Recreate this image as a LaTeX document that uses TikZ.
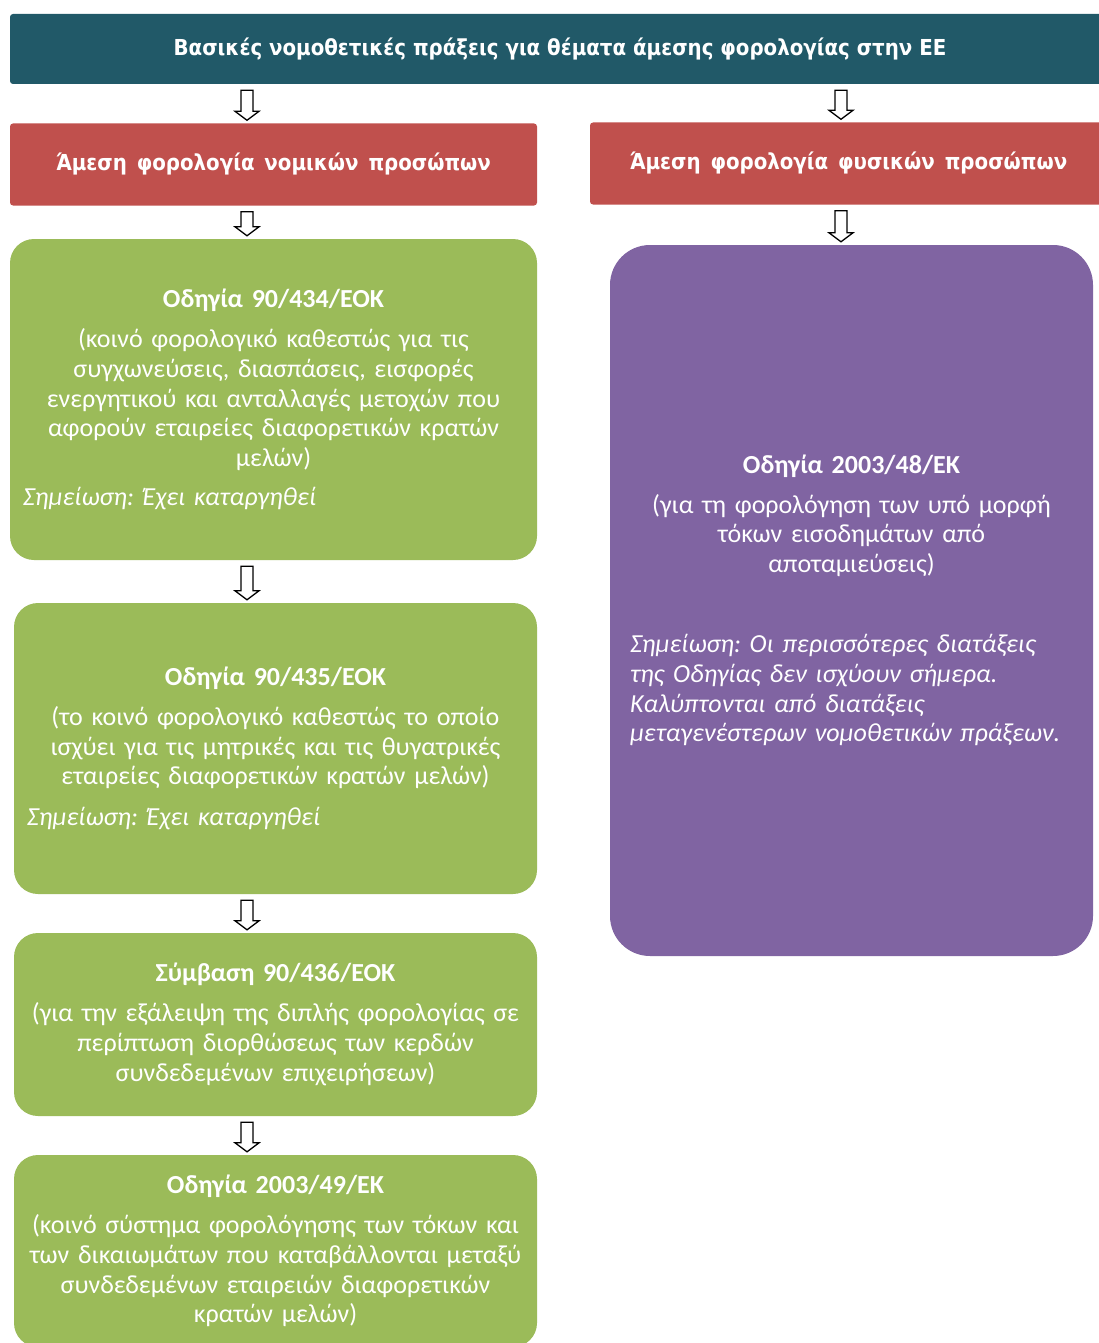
\documentclass[tikz,border=0pt]{standalone}
\usepackage{fontspec}
\setmainfont{Carlito}
\newfontfamily\headfont{DejaVu Sans Condensed}
\usepackage{tikz}
\usetikzlibrary{calc}
\definecolor{headteal}{HTML}{215968}
\definecolor{legalred}{HTML}{C0504D}
\definecolor{dirgreen}{HTML}{9BBB59}
\definecolor{dirpurple}{HTML}{8064A2}
\newcommand{\widesp}{\spaceskip=0.45em plus 0.1em\relax}
\frenchspacing
\tikzset{
    headbox/.style={rectangle, rounded corners=3pt, fill=headteal, text=white, minimum width=1100pt, minimum height=70pt, font=\headfont\bfseries\fontsize{22}{26}\selectfont},
    groupbox/.style={rectangle, rounded corners=3pt, fill=legalred, text=white, minimum height=82pt, font=\headfont\bfseries\fontsize{22}{26}\selectfont},
    greenbox/.style={rectangle, rounded corners=24pt, fill=dirgreen, text=white, inner xsep=13pt, inner ysep=0pt, font=\fontsize{26}{29.8}\selectfont},
    purplebox/.style={rectangle, rounded corners=40pt, fill=dirpurple, text=white, inner xsep=20pt, inner ysep=0pt, font=\fontsize{26}{29.8}\selectfont},
    hollowarrow/.style={draw=black, line width=1.3pt, fill=white, to path={
        let \p1=(\tikztostart), \p2=(\tikztotarget) in
        (\x1-6pt,\y1-6pt) -- (\x1+6pt,\y1-6pt) -- (\x1+6pt,\y2+12pt) -- (\x1+12pt,\y2+12pt)
        -- (\x1,\y2+3pt) -- (\x1-12pt,\y2+12pt) -- (\x1-6pt,\y2+12pt) -- cycle}}
}

\begin{document}
\begin{tikzpicture}[x=1pt, y=-1pt]
    \useasboundingbox (0,0) rectangle (1099,1343);
    \coordinate (colL) at (247,0);
    \coordinate (colR) at (841,0);

    \node (title) [headbox] at (560,49) {Βασικές νομοθετικές πράξεις για θέματα άμεσης φορολογίας στην ΕΕ};
    \node (nomika) [groupbox, minimum width=527pt] at (273.5,164.5) {\widesp Άμεση φορολογία νομικών προσώπων};
    \node (fysika) [groupbox, minimum width=517pt] at (848.5,163.5) {\widesp Άμεση φορολογία φυσικών προσώπων};

    % left column
    \node (dir434) [greenbox, text width=501pt, minimum height=321pt] at (273.5,399.5) {\centering\textbf{Οδηγία 90/434/ΕΟΚ}\\[10pt]
        (κοινό φορολογικό καθεστώς για τις\\ συγχωνεύσεις, διασπάσεις, εισφορές\\ ενεργητικού και ανταλλαγές μετοχών που\\ αφορούν εταιρείες διαφορετικών κρατών\\ μελών)\par
        \vspace{9pt}\raggedright\itshape Σημείωση: Έχει καταργηθεί\par};
    \node (dir435) [greenbox, text width=497pt, minimum height=291pt] at (275.5,748.5) {\centering\textbf{Οδηγία 90/435/ΕΟΚ}\\[10pt]
        (το κοινό φορολογικό καθεστώς το οποίο\\ ισχύει για τις μητρικές και τις θυγατρικές\\ εταιρείες διαφορετικών κρατών μελών)\par
        \vspace{11pt}\raggedright\itshape Σημείωση: Έχει καταργηθεί\par};
    \node (conv436) [greenbox, text width=497pt, minimum height=183pt] at (275.5,1024.5) {\centering\textbf{Σύμβαση 90/436/ΕΟΚ}\\[10pt]
        (για την εξάλειψη της διπλής φορολογίας σε\\ περίπτωση διορθώσεως των κερδών\\ συνδεδεμένων επιχειρήσεων)\par};
    \node (dir4903) [greenbox, text width=497pt, minimum height=192pt] at (275.5,1251) {\centering\textbf{Οδηγία 2003/49/ΕΚ}\\[10pt]
        (κοινό σύστημα φορολόγησης των τόκων και\\ των δικαιωμάτων που καταβάλλονται μεταξύ\\ συνδεδεμένων εταιρειών διαφορετικών\\ κρατών μελών)\par};

    % right column
    \node (dir4803) [purplebox, text width=443pt, minimum height=711pt] at (851.5,600.5) {\centering\textbf{Οδηγία 2003/48/ΕΚ}\\[10pt]
        (για τη φορολόγηση των υπό μορφή\\ τόκων εισοδημάτων από\\ αποταμιεύσεις)\par
        \vspace{50pt}\raggedright\itshape Σημείωση: Οι περισσότερες διατάξεις\\ της Οδηγίας δεν ισχύουν σήμερα.\\ Καλύπτονται από διατάξεις\\ μεταγενέστερων νομοθετικών πράξεων.\par};

    \draw [hollowarrow] (title.south -| colL) to (nomika.north -| colL);
    \draw [hollowarrow] (nomika.south -| colL) to (dir434.north -| colL);
    \draw [hollowarrow] (dir434.south -| colL) to (dir435.north -| colL);
    \draw [hollowarrow] (dir435.south -| colL) to (conv436.north -| colL);
    \draw [hollowarrow] (conv436.south -| colL) to (dir4903.north -| colL);
    \draw [hollowarrow] (title.south -| colR) to (fysika.north -| colR);
    \draw [hollowarrow] (fysika.south -| colR) to (dir4803.north -| colR);
\end{tikzpicture}
\end{document}
